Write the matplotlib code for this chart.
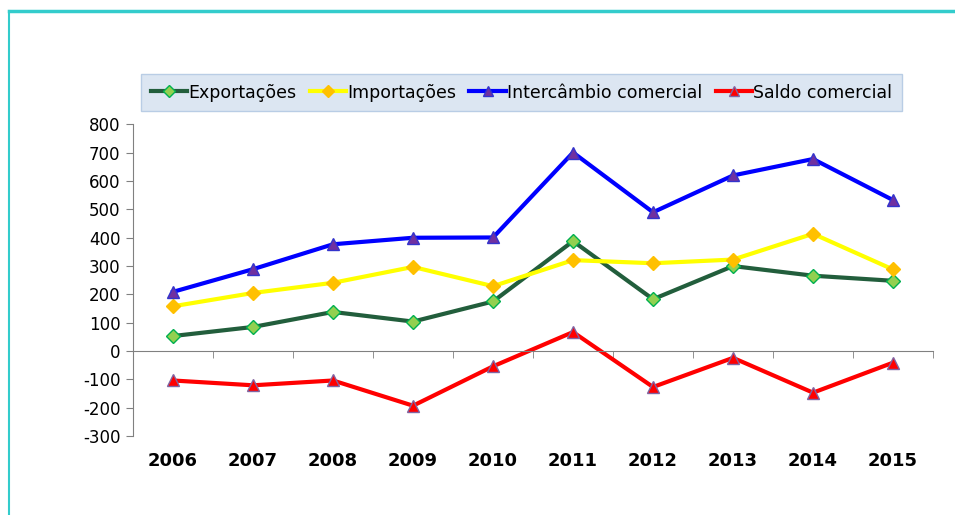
import matplotlib
matplotlib.use("Agg")
import matplotlib.pyplot as plt
from matplotlib.lines import Line2D
import numpy as np

years = ["2006", "2007", "2008", "2009", "2010", "2011", "2012", "2013", "2014", "2015"]
exportacoes = [53, 85, 138, 104, 175, 388, 183, 300, 266, 248]
importacoes = [158, 205, 241, 297, 229, 321, 310, 323, 414, 288]
intercambio = [209, 289, 377, 400, 401, 701, 490, 620, 678, 533]
saldo = [-104, -121, -104, -193, -54, 67, -127, -24, -147, -41]

plt.rcParams['font.family'] = ['DejaVu Sans']
plt.rcParams['axes.unicode_minus'] = False

fig = plt.figure(figsize=(9.55, 5.15), dpi=100)
ax = fig.add_axes([0.1393, 0.1534, 0.8377, 0.6049])

x = np.arange(len(years))
ax.plot(x, exportacoes, color='#225E3C', lw=3, marker='D', ms=7,
        mfc='#92D050', mec='#00B050', mew=1, label='Exportações')
ax.plot(x, importacoes, color='#FFFF00', lw=3, marker='D', ms=7,
        mfc='#FFC000', mec='#FFC000', mew=1, label='Importações')
ax.plot(x, intercambio, color='#0000FF', lw=3, marker='^', ms=9,
        mfc='#7030A0', mec='#3333CC', mew=1, label='Intercâmbio comercial')
ax.plot(x, saldo, color='#FF0000', lw=3, marker='^', ms=9,
        mfc='#FF0000', mec='#8064A2', mew=1, label='Saldo comercial')

ax.set_xlim(-0.5, len(years) - 0.5)
ax.set_ylim(-300, 800)
ax.set_yticks(range(-300, 801, 100))
ax.tick_params(axis='y', labelsize=12, length=5, color='#808080', pad=4)

ax.spines['top'].set_visible(False)
ax.spines['right'].set_visible(False)
ax.spines['left'].set_color('#808080')
ax.spines['bottom'].set_color('#808080')
ax.spines['bottom'].set_position(('data', 0))

ax.set_xticks(x)
ax.set_xticklabels(years, fontsize=13, fontweight='bold')
ax.set_xticks(np.arange(-0.5, len(years), 1.0), minor=True)
ax.tick_params(axis='x', which='major', length=0, pad=73)
ax.tick_params(axis='x', which='minor', length=5, color='#808080')

leg = ax.legend(loc='lower left', bbox_to_anchor=(0.01, 1.043), ncol=4,
                frameon=True, fancybox=False, fontsize=12.5,
                handlelength=2.1, handletextpad=0.08, columnspacing=0.75,
                borderpad=0.55, borderaxespad=0, markerscale=0.85)
leg.get_frame().set_facecolor('#DCE6F2')
leg.get_frame().set_edgecolor('#B9CDE5')
leg.get_frame().set_alpha(1)

# teal frame around the chart
fig.add_artist(Line2D([8.5 / 955, 1.0], [1 - 11 / 515, 1 - 11 / 515],
                      transform=fig.transFigure, color='#33CCCC', lw=2.5))
fig.add_artist(Line2D([8.5 / 955, 8.5 / 955], [0, 1 - 11 / 515],
                      transform=fig.transFigure, color='#33CCCC', lw=1.5))

fig.savefig('out.png', dpi=100)
